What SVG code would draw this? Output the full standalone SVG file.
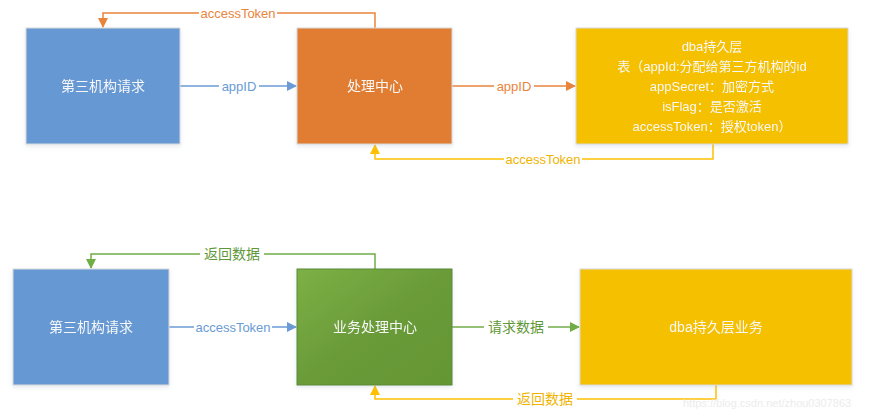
<svg xmlns="http://www.w3.org/2000/svg" width="872" height="410" viewBox="0 0 872 410">
<style>
.box{stroke:#d9d9d9;stroke-width:1}
.blue{fill:#6699d4}
.orange{fill:#e07d30}
.yellow{fill:#f5c000}
.t{font-family:"Liberation Sans","Noto Sans CJK SC",sans-serif;font-size:14px;fill:#f7f7f7;text-anchor:middle}
.t13{font-size:13px}
.l{font-family:"Liberation Sans","Noto Sans CJK SC",sans-serif;font-size:13px;text-anchor:middle}
.cj{font-size:14px}
.c{fill:none;stroke-width:1.5}
</style>
<defs>
<linearGradient id="g" x1="0" y1="0" x2="1" y2="1">
<stop offset="0" stop-color="#7db045"/>
<stop offset="0.5" stop-color="#6a9b39"/>
<stop offset="1" stop-color="#659634"/>
</linearGradient>
<filter id="sh" x="-10%" y="-10%" width="120%" height="130%">
<feDropShadow dx="0" dy="2" stdDeviation="2" flood-color="#9ab" flood-opacity="0.25"/>
</filter>
<marker id="aBlue" markerWidth="10" markerHeight="10" refX="9" refY="5" orient="auto" markerUnits="userSpaceOnUse"><path d="M0,0 L10,5 L0,10 Z" fill="#6a9bd5"/></marker>
<marker id="aOrange" markerWidth="10" markerHeight="10" refX="9" refY="5" orient="auto" markerUnits="userSpaceOnUse"><path d="M0,0 L10,5 L0,10 Z" fill="#e9843c"/></marker>
<marker id="aYellow" markerWidth="10" markerHeight="10" refX="9" refY="5" orient="auto" markerUnits="userSpaceOnUse"><path d="M0,0 L10,5 L0,10 Z" fill="#ffc000"/></marker>
<marker id="aGreen" markerWidth="10" markerHeight="10" refX="9" refY="5" orient="auto" markerUnits="userSpaceOnUse"><path d="M0,0 L10,5 L0,10 Z" fill="#70ad47"/></marker>
</defs>
<rect width="872" height="410" fill="#ffffff"/>

<g id="connectors">
<path class="c" d="M180,86 H296" stroke="#6a9bd5" marker-end="url(#aBlue)"/>
<rect x="219" y="78" width="40" height="16" fill="#fff"/>
<text class="l" x="239" y="91" fill="#6a9bd5">appID</text>

<path class="c" d="M452,86 H575" stroke="#e9843c" marker-end="url(#aOrange)"/>
<rect x="494" y="78" width="40" height="16" fill="#fff"/>
<text class="l" x="514" y="91" fill="#e9843c">appID</text>

<path class="c" d="M375,28 V13 H103 V27" stroke="#e9843c" marker-end="url(#aOrange)"/>
<rect x="199" y="5" width="78" height="16" fill="#fff"/>
<text class="l" x="238" y="18" fill="#e9843c">accessToken</text>

<path class="c" d="M713,144 V159 H375 V145" stroke="#ffc000" marker-end="url(#aYellow)"/>
<rect x="504" y="151" width="78" height="16" fill="#fff"/>
<text class="l" x="543" y="164" fill="#f0b400">accessToken</text>

<path class="c" d="M169,327 H296" stroke="#6a9bd5" marker-end="url(#aBlue)"/>
<rect x="194" y="319" width="78" height="16" fill="#fff"/>
<text class="l" x="233" y="332" fill="#6a9bd5">accessToken</text>

<path class="c" d="M452,327 H579" stroke="#70ad47" marker-end="url(#aGreen)"/>
<rect x="484" y="318" width="64" height="18" fill="#fff"/>
<text class="l cj" x="516" y="332" fill="#5f9838">请求数据</text>

<path class="c" d="M375,269 V254 H91 V268" stroke="#70ad47" marker-end="url(#aGreen)"/>
<rect x="200" y="245" width="64" height="18" fill="#fff"/>
<text class="l cj" x="232" y="259" fill="#5f9838">返回数据</text>

<path class="c" d="M716,385 V399 H375 V386" stroke="#ffc000" marker-end="url(#aYellow)"/>
<rect x="513" y="390" width="64" height="18" fill="#fff"/>
<text class="l cj" x="545" y="404" fill="#f0b400">返回数据</text>
</g>

<g id="req1" filter="url(#sh)">
<rect class="box blue" x="26" y="28" width="154" height="116"/>
<text class="t" x="103" y="91">第三机构请求</text>
</g>
<g id="center1" filter="url(#sh)">
<rect class="box orange" x="297" y="28" width="155" height="116"/>
<text class="t" x="375" y="91">处理中心</text>
</g>
<g id="dba1" filter="url(#sh)">
<rect class="box yellow" x="576" y="28" width="272" height="116"/>
<text class="t t13" x="712" y="51">dba持久层</text>
<text class="t t13" x="712" y="71">表（appId:分配给第三方机构的id</text>
<text class="t t13" x="712" y="91">appSecret：加密方式</text>
<text class="t t13" x="712" y="111">isFlag：是否激活</text>
<text class="t t13" x="712" y="131">accessToken：授权token）</text>
</g>

<g id="req2" filter="url(#sh)">
<rect class="box blue" x="13" y="269" width="156" height="116"/>
<text class="t" x="91" y="332">第三机构请求</text>
</g>
<g id="center2" filter="url(#sh)">
<rect x="297" y="269" width="155" height="116" fill="url(#g)" stroke="#5a8a30" stroke-width="1"/>
<text class="t" x="375" y="332">业务处理中心</text>
</g>
<g id="dba2" filter="url(#sh)">
<rect class="box yellow" x="580" y="269" width="272" height="116"/>
<text class="t" x="716" y="332">dba持久层业务</text>
</g>

<text x="683" y="407" font-family="Liberation Sans, sans-serif" font-size="11" fill="#ececec">https://blog.csdn.net/zhou0307863</text>
</svg>
